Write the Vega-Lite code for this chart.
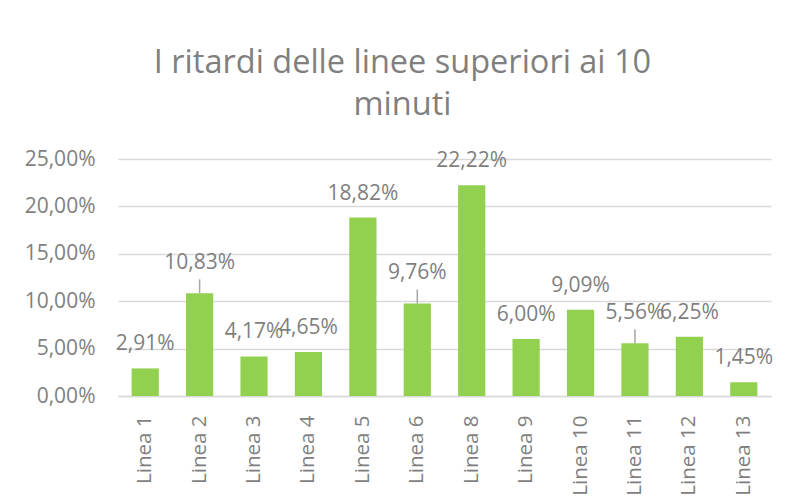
{
  "$schema": "https://vega.github.io/schema/vega-lite/v6.json",
  "width": 653,
  "height": 237,
  "autosize": {"type": "none"},
  "padding": {"left": 118, "top": 159, "right": 18, "bottom": 108},
  "background": "white",
  "title": {
    "text": ["I ritardi delle linee superiori ai 10", "minuti"],
    "font": "Open Sans",
    "fontSize": 32.5,
    "fontWeight": "normal",
    "color": "#7f7f7f",
    "lineHeight": 42,
    "anchor": "middle",
    "dx": -42,
    "offset": 27
  },
  "config": {
    "locale": {
      "number": {"decimal": ",", "thousands": ".", "grouping": [3], "currency": ["€", ""]}
    },
    "view": {"stroke": null},
    "font": "Open Sans"
  },
  "data": {
    "values": [
      {"linea": "Linea 1", "pct": 0.0291},
      {"linea": "Linea 2", "pct": 0.1083},
      {"linea": "Linea 3", "pct": 0.0417},
      {"linea": "Linea 4", "pct": 0.0465},
      {"linea": "Linea 5", "pct": 0.1882},
      {"linea": "Linea 6", "pct": 0.0976},
      {"linea": "Linea 8", "pct": 0.2222},
      {"linea": "Linea 9", "pct": 0.06},
      {"linea": "Linea 10", "pct": 0.0909},
      {"linea": "Linea 11", "pct": 0.0556},
      {"linea": "Linea 12", "pct": 0.0625},
      {"linea": "Linea 13", "pct": 0.0145}
    ]
  },
  "encoding": {
    "x": {
      "field": "linea",
      "type": "nominal",
      "sort": null,
      "scale": {"paddingInner": 0.5, "paddingOuter": 0.25},
      "axis": {
        "title": null,
        "labelAngle": -90,
        "labelFont": "Open Sans",
        "labelFontSize": 20.5,
        "labelColor": "#7f7f7f",
        "labelPadding": 19,
        "ticks": false,
        "domainColor": "#d9d9d9",
        "domainWidth": 1.5
      }
    },
    "y": {
      "field": "pct",
      "type": "quantitative",
      "scale": {"domain": [0, 0.25], "nice": false},
      "axis": {
        "title": null,
        "format": ".2%",
        "values": [0, 0.05, 0.1, 0.15, 0.2, 0.25],
        "labelFont": "Open Sans",
        "labelFontSize": 21,
        "labelColor": "#7f7f7f",
        "labelPadding": 23,
        "ticks": false,
        "domain": false,
        "gridColor": "#d9d9d9",
        "gridWidth": 1.5
      }
    }
  },
  "layer": [
    {"mark": {"type": "bar", "color": "#92d050"}},
    {
      "transform": [{"filter": {"field": "linea", "oneOf": ["Linea 2", "Linea 6", "Linea 11"]}}],
      "mark": {"type": "rule", "color": "#a6a6a6", "strokeWidth": 1.5, "y2Offset": -14},
      "encoding": {"y2": {"field": "pct"}}
    },
    {
      "transform": [{"filter": {"not": {"field": "linea", "oneOf": ["Linea 2", "Linea 6", "Linea 11"]}}}],
      "mark": {"type": "text", "dy": -24, "baseline": "middle", "font": "Open Sans", "fontSize": 21, "color": "#7f7f7f"},
      "encoding": {"text": {"field": "pct", "type": "quantitative", "format": ".2%"}}
    },
    {
      "transform": [{"filter": {"field": "linea", "oneOf": ["Linea 2", "Linea 6", "Linea 11"]}}],
      "mark": {"type": "text", "dy": -30, "baseline": "middle", "font": "Open Sans", "fontSize": 21, "color": "#7f7f7f"},
      "encoding": {"text": {"field": "pct", "type": "quantitative", "format": ".2%"}}
    }
  ]
}
